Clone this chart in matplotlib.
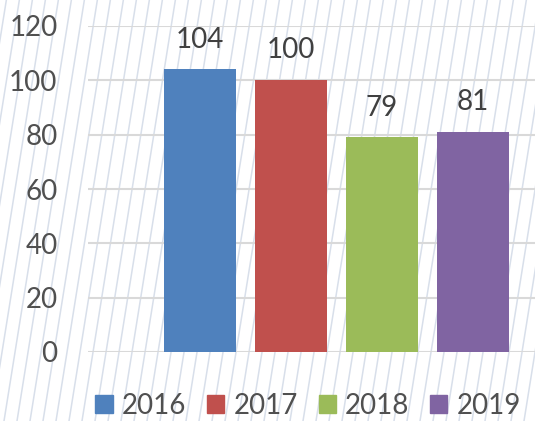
import matplotlib.pyplot as plt
from matplotlib.lines import Line2D
from matplotlib.patches import Patch

years = ['2016', '2017', '2018', '2019']
values = [104, 100, 79, 81]
colors = ['#4F81BD', '#C0504D', '#9BBB59', '#8064A2']

plt.rcParams['font.family'] = ['Lato', 'DejaVu Sans']

fig = plt.figure(figsize=(5.35, 4.21), dpi=100)
fig.patch.set_facecolor('white')

# slanted light lines in the background
W, H = 535, 421
for x0 in range(-100, W + 20, 13):
    fig.add_artist(Line2D([x0 / W, (x0 + 0.16 * H) / W], [0, 1],
                          transform=fig.transFigure, color='#d8dfea',
                          lw=1.1, zorder=0))

ax = fig.add_axes([88 / W, 69 / H, 1 - 88 / W, (395 - 69) / H])
ax.set_facecolor('none')
ax.set_zorder(1)

xs = range(len(years))
ax.bar(xs, values, width=0.79, color=colors, zorder=3)
for x, v in zip(xs, values):
    ax.text(x, v + 11, str(v), ha='center', va='center', fontsize=20,
            color='#404040', zorder=4)

ax.set_xlim(-1.23, 3.68)
ax.set_ylim(0, 120)
ax.set_yticks(range(0, 121, 20))
ax.yaxis.grid(True, color='#d9d9d9', lw=1.5, zorder=1)
ax.set_xticks([])
ax.tick_params(axis='y', length=0, pad=22, labelsize=20, labelcolor='#505050')
for s in ax.spines.values():
    s.set_visible(False)

handles = [Patch(color=c, label=y) for c, y in zip(colors, years)]
fig.legend(handles=handles, loc='center', bbox_to_anchor=(0.576, 15 / H),
           ncol=4, frameon=False, fontsize=20, handlelength=0.62,
           handleheight=0.62, handletextpad=0.33, columnspacing=0.75,
           labelcolor='#505050', borderpad=0)

fig.savefig('out.png', dpi=100)
